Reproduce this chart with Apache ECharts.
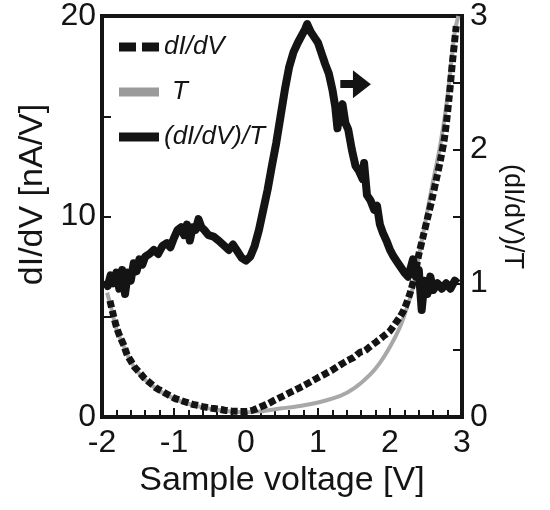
<!DOCTYPE html>
<html>
<head>
<meta charset="utf-8">
<script src="https://cdn.jsdelivr.net/npm/echarts@6/dist/echarts.min.js"></script>
<style>
html,body{margin:0;padding:0;background:#fff;}
#chart{width:550px;height:510px;}
</style>
</head>
<body>
<div id="chart"></div>
<script>
// ---- data ----
var xTicks = [-2, -1, 0, 1, 2, 3];
var leftTicks = [0, 10, 20];
var rightTicks = [0, 1, 2, 3];

// dI/dV (left axis, nA/V)
var didvV = [-1.89,-1.85,-1.80,-1.75,-1.70,-1.65,-1.60,-1.55,-1.50,-1.45,-1.40,-1.35,-1.30,-1.25,-1.20,-1.15,-1.10,
  -1.00,-0.90,-0.80,-0.70,-0.60,-0.50,-0.40,-0.30,-0.20,-0.10,
  0.00,0.10,0.20,0.30,0.40,0.50,0.60,0.70,0.80,0.90,1.00,1.10,1.20,1.30,1.40,1.50,
  1.58,1.65,1.72,1.80,1.90,2.00,2.08,2.14,2.20,
  2.28,2.34,2.40,2.46,2.52,2.58,2.64,2.70,2.76,2.82,2.87,2.92];
var didvVals = [5.8,5.2,4.5,4.0,3.6,3.1,2.8,2.5,2.3,2.1,1.9,1.75,1.6,1.45,1.35,1.25,1.15,
  0.95,0.82,0.70,0.60,0.52,0.45,0.40,0.34,0.30,0.28,
  0.28,0.35,0.50,0.65,0.84,1.02,1.20,1.38,1.56,1.76,1.96,2.15,2.35,2.58,2.80,2.98,
  3.22,3.30,3.50,3.72,4.0,4.3,4.7,5.0,5.4,
  6.2,7.0,8.1,9.0,9.9,10.8,11.8,12.8,14.0,15.9,17.8,19.5];

// T (left axis scale)
var tV = [-1.93,-1.89,-1.85,-1.80,-1.75,-1.70,-1.60,-1.50,-1.40,-1.30,-1.20,-1.10,-1.00,-0.80,-0.60,-0.40,-0.20,
  0.00,0.20,0.47,0.75,1.03,1.31,1.51,1.72,1.86,2.00,2.14,
  2.24,2.32,2.40,2.50,2.60,2.70,2.80,2.90,2.95];
var tVals = [6.2,5.7,5.1,4.4,3.95,3.55,2.75,2.25,1.85,1.55,1.3,1.1,0.92,0.66,0.48,0.36,0.27,
  0.24,0.28,0.42,0.55,0.75,1.05,1.45,2.1,2.7,3.5,4.5,
  5.5,6.5,8.0,9.9,11.8,13.6,16.0,19.2,20.0];

// (dI/dV)/T (right axis)
var ratioV = [-1.96,-1.92,-1.88,-1.84,-1.80,-1.76,-1.72,-1.68,-1.64,-1.60,-1.56,-1.52,-1.48,-1.44,-1.40,
  -1.34,-1.28,-1.22,-1.16,-1.10,
  -1.05,-1.00,-0.95,-0.90,-0.86,-0.82,-0.78,-0.74,-0.70,-0.66,-0.62,-0.58,
  -0.52,-0.45,-0.38,-0.30,-0.24,-0.18,-0.12,-0.06,
  0.00,0.06,0.12,0.18,0.24,0.30,0.36,0.42,0.48,0.54,0.60,0.66,0.72,0.78,
  0.82,0.85,0.90,0.95,1.00,1.05,1.10,1.15,1.20,
  1.24,1.27,1.30,1.34,1.38,1.42,1.47,1.52,1.57,1.62,1.64,1.68,1.73,1.78,1.82,1.86,1.90,1.95,
  2.00,2.05,2.10,2.15,2.20,2.25,2.29,2.32,2.36,2.40,2.44,2.48,2.52,2.56,2.60,
  2.66,2.72,2.78,2.84,2.90,2.94];
var ratioVals = [1.02,0.98,1.06,1.00,1.08,0.96,1.10,0.92,1.08,1.02,1.15,1.09,1.18,1.14,1.20,
  1.22,1.25,1.22,1.28,1.30,
  1.27,1.34,1.40,1.42,1.36,1.44,1.32,1.42,1.40,1.48,1.42,1.40,
  1.36,1.35,1.32,1.28,1.25,1.29,1.24,1.19,
  1.17,1.20,1.28,1.40,1.55,1.70,1.88,2.05,2.25,2.45,2.62,2.73,2.80,2.86,
  2.90,2.94,2.88,2.84,2.80,2.72,2.64,2.57,2.45,
  2.32,2.16,2.28,2.34,2.20,2.15,2.00,1.88,1.84,1.78,1.90,1.66,1.62,1.55,1.58,1.44,1.38,1.32,
  1.25,1.20,1.16,1.12,1.08,1.05,1.12,1.18,1.05,1.10,0.80,1.02,0.92,1.05,0.95,
  1.00,0.96,1.00,0.96,1.02,1.00];

// arrow annotation (points toward right axis), in data units of right axis
var arrowFrom = [1.31, 2.49];
var arrowTo = [1.61, 2.49];

var names = ['dI/dV', 'T', '(dI/dV)/T'];

function zip(xs, ys) { return xs.map(function (x, i) { return [x, ys[i]]; }); }

var FONT = 'Liberation Sans, Arial, Helvetica, sans-serif';
var INK = '#141414';
var GRAY = '#a8a8a8';

var chart = echarts.init(document.getElementById('chart'));
chart.setOption({
  animation: false,
  backgroundColor: '#fff',
  textStyle: { fontFamily: FONT, color: INK },
  grid: { left: 102, right: 88, top: 14, bottom: 93, show: true, borderColor: INK, borderWidth: 4, backgroundColor: 'transparent' },
  legend: {
    left: 114, top: 29, orient: 'vertical', itemWidth: 40, itemHeight: 9, itemGap: 19, itemTextGap: 6,
    symbolKeepAspect: false,
    textStyle: { fontSize: 26, fontStyle: 'italic', color: INK, fontFamily: FONT },
    data: [
      { name: names[0], icon: 'path://M0,0h17v8h-17z M23,0h17v8h-17z', itemStyle: { color: INK } },
      { name: names[1], icon: 'path://M0,0h40v8h-40z', itemStyle: { color: '#9a9a9a' }, textStyle: { padding: [0, 0, 0, 8] } },
      { name: names[2], icon: 'path://M0,0h40v8h-40z', itemStyle: { color: INK } }
    ]
  },
  xAxis: {
    type: 'value', min: xTicks[0], max: xTicks[xTicks.length - 1], interval: 1,
    name: 'Sample voltage [V]', nameLocation: 'middle', nameGap: 44,
    nameTextStyle: { fontSize: 34, color: INK, fontFamily: FONT },
    axisLine: { onZero: false, lineStyle: { color: INK, width: 4 } },
    axisTick: { inside: true, length: 9, lineStyle: { color: INK, width: 2 } },
    minorTick: { show: true, splitNumber: 5, length: 7, lineStyle: { color: INK, width: 2 } },
    splitLine: { show: false },
    axisLabel: { fontSize: 32, color: INK, margin: 10, fontFamily: FONT }
  },
  yAxis: [
    {
      type: 'value', min: leftTicks[0], max: leftTicks[leftTicks.length - 1], interval: 10, position: 'left',
      name: 'dI/dV [nA/V]', nameLocation: 'middle', nameGap: 50,
      nameTextStyle: { fontSize: 34, color: INK, fontFamily: FONT, padding: [0, 0, 0, 44] },
      axisLine: { show: true, onZero: false, lineStyle: { color: INK, width: 4 } },
      axisTick: { inside: true, length: 9, lineStyle: { color: INK, width: 2 } },
      minorTick: { show: true, splitNumber: 2, length: 9, lineStyle: { color: INK, width: 2 } },
      splitLine: { show: false },
      axisLabel: { fontSize: 32, color: INK, margin: 6, fontFamily: FONT }
    },
    {
      type: 'value', min: rightTicks[0], max: rightTicks[rightTicks.length - 1], interval: 1, position: 'right',
      name: '(dI/dV)/T', nameLocation: 'middle', nameGap: 36, nameRotate: -90,
      nameTextStyle: { fontSize: 27, color: INK, fontFamily: FONT },
      axisLine: { show: true, onZero: false, lineStyle: { color: INK, width: 4 } },
      axisTick: { inside: true, length: 9, lineStyle: { color: INK, width: 2 } },
      minorTick: { show: true, splitNumber: 2, length: 9, lineStyle: { color: INK, width: 2 } },
      splitLine: { show: false },
      axisLabel: { fontSize: 32, color: INK, margin: 8, fontFamily: FONT }
    }
  ],
  series: [
    {
      name: names[1], type: 'line', yAxisIndex: 0, data: zip(tV, tVals), symbol: 'none', smooth: 0.3,
      lineStyle: { color: GRAY, width: 4 }, itemStyle: { color: GRAY }, z: 2
    },
    {
      name: names[0], type: 'line', yAxisIndex: 0, data: zip(didvV, didvVals), symbol: 'none', smooth: 0.3,
      lineStyle: { color: INK, width: 7, type: [7, 3] }, itemStyle: { color: INK }, z: 3
    },
    {
      name: names[2], type: 'line', yAxisIndex: 1, data: zip(ratioV, ratioVals), symbol: 'none',
      lineStyle: { color: INK, width: 8, join: 'round' }, itemStyle: { color: INK }, z: 4,
      markLine: {
        silent: true, symbol: ['none', 'triangle'], symbolSize: [28, 18],
        lineStyle: { color: INK, width: 8, type: 'solid' },
        label: { show: false },
        data: [[{ coord: arrowFrom }, { coord: arrowTo }]]
      }
    }
  ]
});
</script>
</body>
</html>
